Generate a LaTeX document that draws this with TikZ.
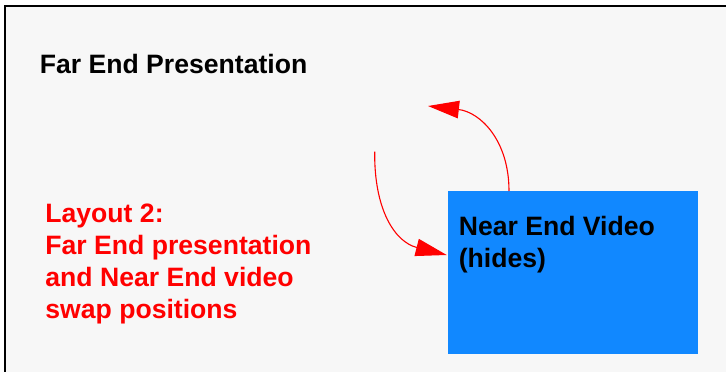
\documentclass[tikz,border=0pt]{standalone}
\usepackage{fontspec}
\setmainfont{Liberation Sans}
\usetikzlibrary{arrows.meta,calc}
\definecolor{bggray}{RGB}{247,247,247}
\definecolor{boxblue}{RGB}{17,136,255}
\definecolor{labred}{RGB}{255,0,0}
\tikzset{
  bigtext/.style={inner sep=0pt, anchor=base west, align=left, font=\bfseries\fontsize{26.6}{32}\selectfont},
  swaparrow/.style={draw=labred, line width=1.1pt, -{Triangle[length=31pt,width=17.5pt]}, labred},
}
\begin{document}
\begin{tikzpicture}[x=1pt,y=-1pt]
\useasboundingbox (0,0) rectangle (726,372);
\fill[white] (0,0) rectangle (726,372);
\fill[bggray] (4.7,5.8) rectangle (726,372);
\draw[line width=2.3pt] (4.7,372) -- (4.7,5.8) -- (726,5.8);
\node[bigtext, text=black] (title) at (39.6,73) {Far End Presentation};
\node[bigtext, text=labred] (layout) at (45.2,318.5) {Layout 2:\\Far End presentation\\and Near End video\\swap positions};
\node[fill=boxblue, inner sep=0pt, minimum width=250pt, minimum height=163pt, anchor=north west] (box) at (448,191) {};
\node[bigtext, text=black] (boxtext) at (458.6,267) {Near End Video\\(hides)};
\coordinate (upstart) at ($(box.north west)+(61,0)$);
\coordinate (uptip) at (428,106);
\coordinate (downstart) at (374.7,151.7);
\coordinate (downtip) at ($(box.north west)+(-1.3,64)$);
\draw[swaparrow] (upstart) .. controls ($(upstart)+(0,-51)$) and (480,112) .. (uptip);
\draw[swaparrow] (downstart) .. controls (374,210) and (395,242) .. (downtip);
\end{tikzpicture}
\end{document}
